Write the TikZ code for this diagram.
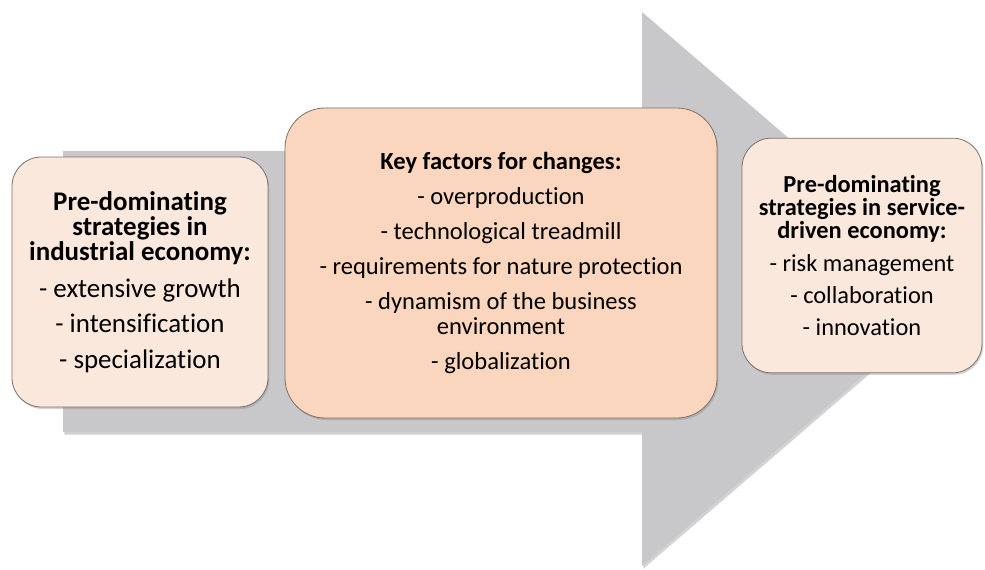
\documentclass[tikz,border=0pt]{standalone}
\usepackage{fontspec}
\setmainfont{Carlito}[Ligatures=CommonOff]
\usepackage{tikz}
\usetikzlibrary{shadows}

\definecolor{arrowgray}{RGB}{200,200,202}
\definecolor{lightpeach}{RGB}{250,232,220}
\definecolor{peach}{RGB}{249,214,189}
\definecolor{boxborder}{RGB}{125,112,104}

\begin{document}
\begin{tikzpicture}[x=0.75pt,y=0.75pt,
    strategy box/.style={draw=boxborder, line width=0.6pt, fill=lightpeach, rounded corners=22pt, align=center, inner sep=0pt, drop shadow={shadow xshift=1pt, shadow yshift=-1.5pt, opacity=0.35}},
    factor box/.style={strategy box, fill=peach, rounded corners=30pt}]
    \useasboundingbox (0,0) rectangle (985,569);

    \node [coordinate] (shaft top left) at (63,418) {};
    \node [coordinate] (shaft top right) at (642,418) {};
    \node [coordinate] (head top) at (642,557) {};
    \node [coordinate] (head tip) at (964,280) {};
    \node [coordinate] (head bottom) at (642,3) {};
    \node [coordinate] (shaft bottom right) at (642,137) {};
    \node [coordinate] (shaft bottom left) at (63,137) {};

    \fill [arrowgray, drop shadow={shadow xshift=1pt, shadow yshift=-2pt, opacity=0.35}] (shaft top left) -- (shaft top right) -- (head top) -- (head tip) -- (head bottom) -- (shaft bottom right) -- (shaft bottom left) -- cycle;

    \node [strategy box, minimum width=192pt, minimum height=187.5pt, font=\fontsize{20.2}{18.8}\selectfont] (industrial) at (140,287)
        {\textbf{Pre-dominating}\\\textbf{strategies in}\\\textbf{industrial economy:}\\[9pt]
         - extensive growth\\[7.7pt] - intensification\\[7.7pt] - specialization};

    \node [factor box, minimum width=324pt, minimum height=232.5pt, font=\fontsize{18.4}{18.75}\selectfont] (factors) at (501,306)
        {\textbf{Key factors for changes:}\\[7.5pt]
         - overproduction\\[7.5pt] - technological treadmill\\[7.5pt] - requirements for nature protection\\[7.5pt]
         - dynamism of the business\\ environment\\[7.5pt] - globalization};

    \node [strategy box, minimum width=180pt, minimum height=176pt, font=\fontsize{18.3}{17.4}\selectfont] (service) at (862,313.5)
        {\textbf{Pre-dominating}\\\textbf{strategies in service-}\\\textbf{driven economy:}\\[7pt]
         - risk management\\[6.75pt] - collaboration\\[6.75pt] - innovation};
\end{tikzpicture}
\end{document}
